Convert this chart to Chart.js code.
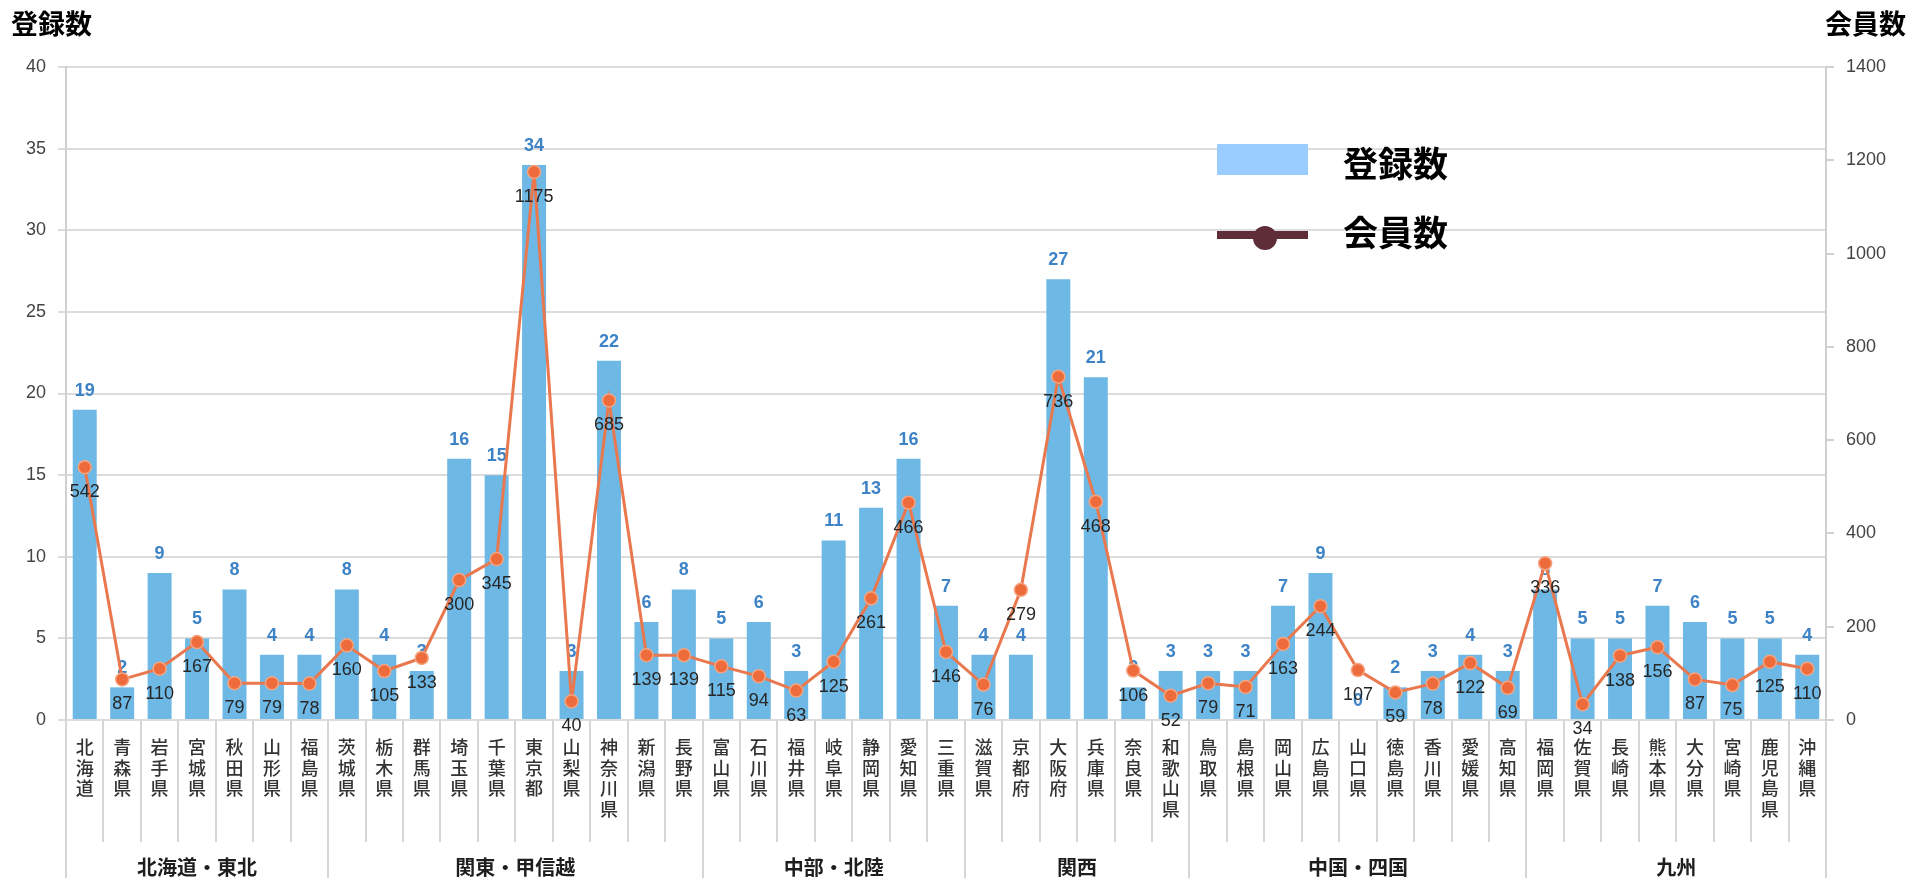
<!DOCTYPE html>
<html>
<head>
<meta charset="utf-8">
<script src="https://cdn.jsdelivr.net/npm/chart.js@4.4.1/dist/chart.umd.min.js"></script>
<style>
    html, body { margin: 0; padding: 0; background: #fff; }
    #chart { display: block; }
</style>
</head>
<body>
<canvas id="chart" width="1913" height="878"></canvas>
<script>
var prefectures = ['北海道', '青森県', '岩手県', '宮城県', '秋田県', '山形県', '福島県',
    '茨城県', '栃木県', '群馬県', '埼玉県', '千葉県', '東京都', '山梨県', '神奈川県', '新潟県', '長野県',
    '富山県', '石川県', '福井県', '岐阜県', '静岡県', '愛知県', '三重県',
    '滋賀県', '京都府', '大阪府', '兵庫県', '奈良県', '和歌山県',
    '鳥取県', '島根県', '岡山県', '広島県', '山口県', '徳島県', '香川県', '愛媛県', '高知県',
    '福岡県', '佐賀県', '長崎県', '熊本県', '大分県', '宮崎県', '鹿児島県', '沖縄県'];

// 登録数 (left axis)
var registrations = [19, 2, 9, 5, 8, 4, 4,
    8, 4, 3, 16, 15, 34, 3, 22, 6, 8,
    5, 6, 3, 11, 13, 16, 7,
    4, 4, 27, 21, 2, 3,
    3, 3, 7, 9, 0, 2, 3, 4, 3,
    8, 5, 5, 7, 6, 5, 5, 4];

// 会員数 (right axis)
var members = [542, 87, 110, 167, 79, 79, 78,
    160, 105, 133, 300, 345, 1175, 40, 685, 139, 139,
    115, 94, 63, 125, 261, 466, 146,
    76, 279, 736, 468, 106, 52,
    79, 71, 163, 244, 107, 59, 78, 122, 69,
    336, 34, 138, 156, 87, 75, 125, 110];

var regionNames = ['北海道・東北', '関東・甲信越', '中部・北陸', '関西', '中国・四国', '九州'];
var regionSizes = [7, 10, 7, 6, 9, 8];

var leftTicks = [0, 5, 10, 15, 20, 25, 30, 35, 40];
var rightTicks = [0, 200, 400, 600, 800, 1000, 1200, 1400];

var jpFont = '"Noto Sans CJK JP", "Noto Sans", sans-serif';
var numFont = '"Liberation Sans", "DejaVu Sans", sans-serif';

// vertical labels: one character per line
var stackedLabels = prefectures.map(function(name) {
    return name.split('');
});

var valueLabels = {
    id: 'valueLabels',
    afterDatasetDraw: function(chart, args) {
        var ctx = chart.ctx;
        var meta = args.meta;
        ctx.save();
        ctx.textAlign = 'center';
        ctx.textBaseline = 'middle';
        if (meta.type === 'bar') {
            ctx.fillStyle = '#3d83c6';
            ctx.font = 'bold 18px ' + numFont;
            meta.data.forEach(function(el, i) {
                ctx.fillText(registrations[i], el.x, el.y - 19);
            });
        } else {
            ctx.fillStyle = '#262626';
            ctx.font = '18px ' + numFont;
            meta.data.forEach(function(el, i) {
                ctx.fillText(members[i], el.x, el.y + 25);
            });
        }
        ctx.restore();
    }
};

var decorations = {
    id: 'decorations',
    afterDraw: function(chart) {
        var ctx = chart.ctx;
        var area = chart.chartArea;
        var step = (area.right - area.left) / prefectures.length;
        var h = chart.height;

        ctx.save();
        // short separators between prefectures
        ctx.strokeStyle = '#d6d6d6';
        ctx.lineWidth = 2;
        for (var i = 0; i <= prefectures.length; i++) {
            var x = Math.round(area.left + i * step);
            ctx.beginPath();
            ctx.moveTo(x, area.bottom);
            ctx.lineTo(x, area.bottom + 122);
            ctx.stroke();
        }

        // region separators and names
        var start = 0;
        ctx.fillStyle = '#1e1e1e';
        ctx.font = 'bold 20px ' + jpFont;
        ctx.textAlign = 'center';
        ctx.textBaseline = 'middle';
        for (var r = 0; r <= regionSizes.length; r++) {
            var gx = Math.round(area.left + start * step);
            ctx.beginPath();
            ctx.moveTo(gx, area.bottom);
            ctx.lineTo(gx, h);
            ctx.stroke();
            if (r < regionSizes.length) {
                var mid = area.left + (start + regionSizes[r] / 2) * step;
                ctx.fillText(regionNames[r], mid, 867);
                start += regionSizes[r];
            }
        }

        // axis titles
        ctx.fillStyle = '#000';
        ctx.font = 'bold 27px ' + jpFont;
        ctx.textAlign = 'left';
        ctx.fillText('登録数', 11, 24);
        ctx.textAlign = 'right';
        ctx.fillText('会員数', 1906, 24);

        // legend
        ctx.fillStyle = '#99ccff';
        ctx.fillRect(1217, 144, 91, 31);
        ctx.strokeStyle = '#5e2d38';
        ctx.lineWidth = 8;
        ctx.beginPath();
        ctx.moveTo(1217, 235);
        ctx.lineTo(1308, 235);
        ctx.stroke();
        ctx.fillStyle = '#5e2d38';
        ctx.beginPath();
        ctx.arc(1265, 238, 12, 0, Math.PI * 2);
        ctx.fill();

        ctx.fillStyle = '#000';
        ctx.font = 'bold 35px ' + jpFont;
        ctx.textAlign = 'left';
        ctx.fillText('登録数', 1343, 164);
        ctx.fillText('会員数', 1343, 233);
        ctx.restore();
    }
};

var ctx = document.getElementById('chart').getContext('2d');
var chart = new Chart(ctx, {
    data: {
        labels: stackedLabels,
        datasets: [{
            type: 'line',
            label: '会員数',
            data: members,
            yAxisID: 'y1',
            order: 0,
            borderColor: '#e9784f',
            borderWidth: 3,
            pointRadius: 6.5,
            pointBackgroundColor: '#ee6c3b',
            pointBorderColor: '#f5a482',
            pointBorderWidth: 1.5,
            tension: 0
        }, {
            type: 'bar',
            label: '登録数',
            data: registrations,
            yAxisID: 'y',
            order: 1,
            backgroundColor: '#6db8e4',
            categoryPercentage: 1,
            barPercentage: 0.64
        }]
    },
    options: {
        responsive: false,
        animation: false,
        devicePixelRatio: 1,
        layout: { padding: { top: 67, left: 0, right: 0, bottom: 0 } },
        plugins: {
            legend: { display: false },
            tooltip: { enabled: false }
        },
        scales: {
            x: {
                grid: { display: false, drawTicks: false },
                border: { display: false },
                ticks: {
                    autoSkip: false,
                    maxRotation: 0,
                    minRotation: 0,
                    padding: 17,
                    color: '#333',
                    font: { family: jpFont, size: 18, weight: '500', lineHeight: 1.14 }
                },
                afterFit: function(scale) { scale.height = 158; }
            },
            y: {
                position: 'left',
                min: 0,
                max: 40,
                afterBuildTicks: function(scale) {
                    scale.ticks = leftTicks.map(function(v) { return { value: v }; });
                },
                grid: { color: '#dcdcdc', lineWidth: 2, tickLength: 8 },
                border: { color: '#d0d0d0', width: 2 },
                ticks: {
                    color: '#444',
                    padding: 12,
                    font: { family: numFont, size: 18 },
                    callback: function(v) { return String(v); }
                },
                afterFit: function(scale) { scale.width = 66; }
            },
            y1: {
                position: 'right',
                min: 0,
                max: 1400,
                afterBuildTicks: function(scale) {
                    scale.ticks = rightTicks.map(function(v) { return { value: v }; });
                },
                grid: { drawOnChartArea: false, color: '#d0d0d0', lineWidth: 2, tickLength: 8 },
                border: { color: '#d0d0d0', width: 2 },
                ticks: {
                    color: '#444',
                    padding: 12,
                    font: { family: numFont, size: 18 },
                    callback: function(v) { return String(v); }
                },
                afterFit: function(scale) { scale.width = 87; }
            }
        }
    },
    plugins: [valueLabels, decorations]
});
</script>
</body>
</html>
